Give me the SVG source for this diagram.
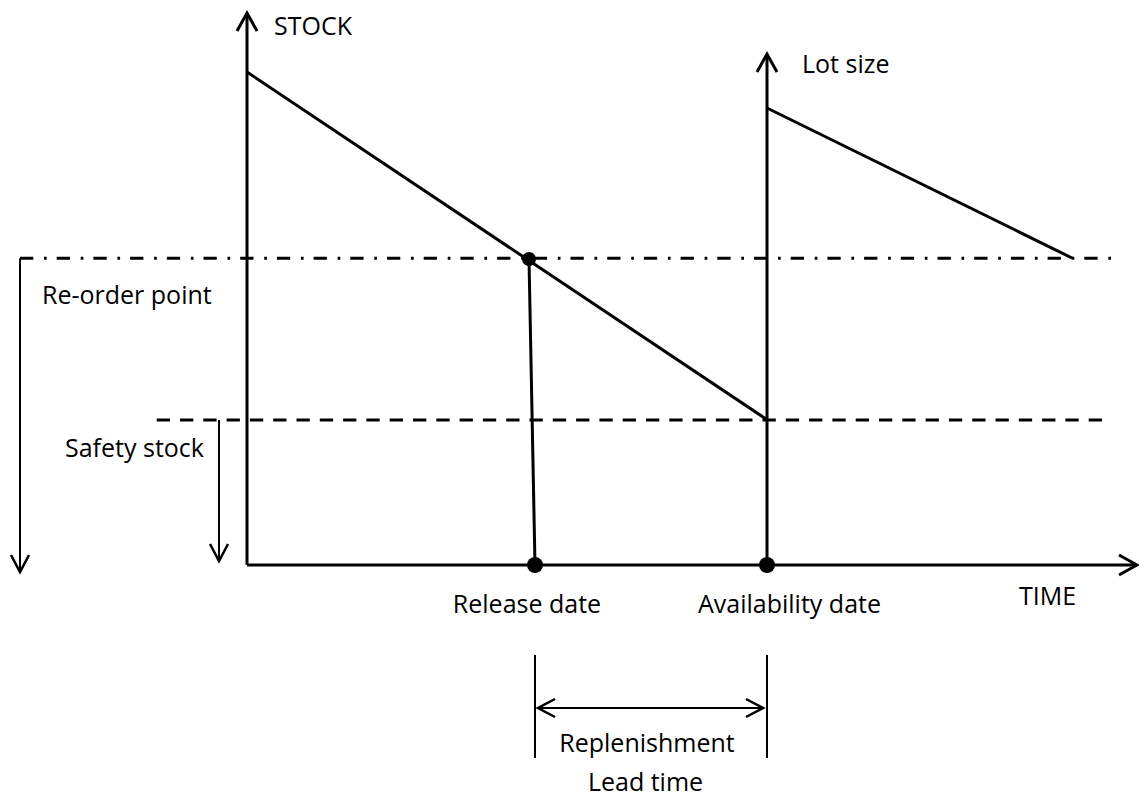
<svg xmlns="http://www.w3.org/2000/svg" width="1139" height="798" viewBox="0 0 1139 798">
  <style>
    .ln { fill: none; stroke: #000; stroke-width: 3; }
    .thin { fill: none; stroke: #000; stroke-width: 2; }
    .reorder { fill: none; stroke: #000; stroke-width: 3; stroke-dasharray: 13.3 10.7 2.7 10; }
    .safety { fill: none; stroke: #000; stroke-width: 3; stroke-dasharray: 13.3 10; }
    .lbl { font-family: "Open Sans", "Noto Sans", "Liberation Sans", sans-serif; font-size: 25px; fill: #000; }
    .dot { fill: #000; }
  </style>
  <defs>
    <marker id="chev" viewBox="-22 -12 26 24" markerWidth="26" markerHeight="24" refX="0" refY="0" orient="auto-start-reverse" markerUnits="userSpaceOnUse" overflow="visible">
      <path d="M-18,-10 L0,0 L-18,10" fill="none" stroke="#000" stroke-width="3"/>
    </marker>
    <marker id="chevS" viewBox="-22 -12 26 24" markerWidth="26" markerHeight="24" refX="0" refY="0" orient="auto-start-reverse" markerUnits="userSpaceOnUse" overflow="visible">
      <path d="M-17,-9 L0,0 L-17,9" fill="none" stroke="#000" stroke-width="2.5"/>
    </marker>
  </defs>

  <!-- level lines -->
  <g id="levels">
    <path class="reorder" d="M20,258.3 H1112"/>
    <path class="safety" d="M156.7,420 H1103"/>
  </g>

  <!-- axes -->
  <g id="axes">
    <path class="ln" d="M247,565 V13" marker-end="url(#chev)"/>
    <path class="ln" d="M247,565 H1137" marker-end="url(#chev)"/>
    <path class="ln" d="M767,565 V54" marker-end="url(#chev)"/>
  </g>

  <!-- stock depletion and order lines -->
  <g id="connectors">
    <path class="ln" d="M247,72 L766,419"/>
    <path class="ln" d="M767,108 L1072,258"/>
    <path class="ln" d="M529,259 L535,565"/>
    <path class="thin" d="M20,258.3 V572" stroke-width="2.5" marker-end="url(#chevS)"/>
    <path class="thin" d="M219,420 V561" marker-end="url(#chevS)"/>
    <path class="thin" d="M535,655 V758"/>
    <path class="thin" d="M767,655 V758"/>
    <path class="thin" d="M538,708 H763" stroke-width="2.5" marker-start="url(#chevS)" marker-end="url(#chevS)"/>
  </g>

  <!-- event points -->
  <g id="reorder-point"><circle class="dot" cx="529" cy="259" r="7"/></g>
  <g id="release-point"><circle class="dot" cx="535" cy="565" r="8"/></g>
  <g id="availability-point"><circle class="dot" cx="767" cy="565" r="8"/></g>

  <!-- labels -->
  <g id="labels">
    <text class="lbl" x="274" y="35">STOCK</text>
    <text class="lbl" x="802" y="73">Lot size</text>
    <text class="lbl" x="42" y="304">Re-order point</text>
    <text class="lbl" x="65" y="457">Safety stock</text>
    <text class="lbl" x="527" y="613" text-anchor="middle">Release date</text>
    <text class="lbl" x="789.5" y="613" text-anchor="middle">Availability date</text>
    <text class="lbl" x="1047.5" y="605" text-anchor="middle">TIME</text>
    <text class="lbl" x="647" y="752" text-anchor="middle">Replenishment</text>
    <text class="lbl" x="645.5" y="791" text-anchor="middle">Lead time</text>
  </g>
</svg>
